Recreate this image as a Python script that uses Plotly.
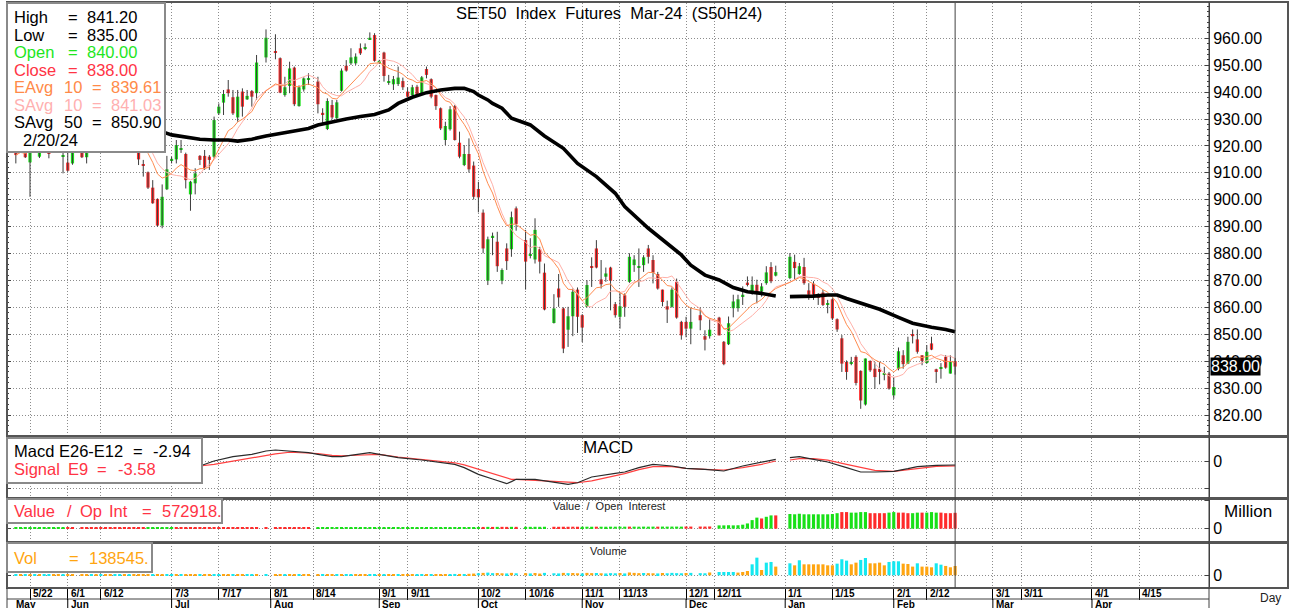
import pandas as pd
import plotly.graph_objects as go

W, H = 1291, 608

# ---------------- data ----------------
holidays = ["2023-06-05", "2023-07-28", "2023-08-01", "2023-08-14", "2023-10-13",
            "2023-10-23", "2023-12-05", "2023-12-11", "2023-12-29", "2024-01-01"]

opens = [
    924.0, 919.0, 922.0, 913.9, 921.0, 916.0, 920.0, 921.0, 919.0, 923.0, 916.0, 913.8, 913.5,
    920.5, 915.8, 921.0, 925.0, 927.0, 929.0, 927.0, 926.0, 922.0, 925.0, 923.0, 924.0,
    921.0, 913.2, 910.2, 904.5, 900.3, 890.4, 903.9, 914.6, 915.0, 918.7, 917.0, 902.0, 906.1,
    916.3, 916.3, 916.0, 916.0, 932.1, 936.1, 941.0, 938.1, 930.6, 940.2, 937.3, 940.4, 939.6,
    952.9,
    955.2, 952.6, 938.9, 942.3, 949.1, 934.8, 941.0, 944.7,
    943.9, 932.2, 926.3, 935.2, 930.3, 940.5, 949.8, 950.7, 950.7, 956.3,
    956.2, 959.8, 961.2, 951.2, 954.7, 943.7, 942.9, 943.0, 944.1, 940.2,
    938.9, 942.0, 939.3, 948.6, 944.8, 938.9, 934.0, 922.2, 926.2, 934.8,
    921.2, 912.9, 917.0, 912.7, 904.0, 895.2, 869.9, 886.2, 884.4, 869.9,
    881.9, 881.6, 896.8,
    885.0, 879.3, 877.8, 881.6, 872.9,
    854.2, 867.0, 859.6, 851.7, 856.7, 866.6, 857.1, 860.2, 875.2, 881.9,
    870.4, 871.4, 874.8, 861.2, 856.5, 864.5, 869.5, 875.7, 874.8, 875.7,
    881.9, 877.6, 872.4, 866.6, 860.4, 860.2, 869.5, 854.6, 854.6, 852.1,
    857.1, 849.3, 849.3,
    856.2, 847.2, 846.3, 859.7, 859.7, 864.0, 869.2, 865.5, 868.4, 865.9, 869.0, 875.0, 871.8,
    870.9, 876.9, 872.4, 875.0, 866.3, 868.8, 864.3, 865.5, 861.2, 863.0,
    855.6, 848.5, 839.7, 839.2, 841.6, 836.4, 823.9, 840.1, 837.2, 837.2,
    835.0, 835.4, 827.3, 837.2, 842.2, 839.1, 850.1, 848.1, 842.2, 839.3,
    846.6, 837.0, 837.3, 841.6, 835.4, 840.0,
]
highs = [
    926.0, 924.0, 924.0, 923.0, 926.0, 922.0, 925.0, 923.0, 925.0, 927.0, 920.0, 918.5, 923.0,
    922.0, 923.0, 926.0, 929.0, 931.0, 932.0, 930.0, 928.0, 926.0, 928.0, 926.0, 927.0,
    923.0, 914.8, 910.5, 907.3, 900.5, 905.7, 916.3, 916.0, 922.2, 922.2, 917.5, 907.0, 911.7,
    916.6, 918.5, 916.6, 930.9, 935.8, 940.8, 944.5, 940.8, 940.8, 941.4, 940.8, 940.8, 953.8,
    963.3,
    961.5, 952.9, 945.7, 951.3, 949.5, 942.5, 945.5, 947.0,
    945.7, 934.0, 937.7, 937.1, 937.1, 948.8, 951.9, 956.3, 954.4, 958.1,
    958.1, 962.2, 961.9, 952.0, 955.0, 946.4, 946.0, 949.5, 945.4, 941.8,
    942.7, 942.7, 946.0, 949.5, 945.1, 939.1, 934.3, 929.0, 934.8, 935.2,
    925.3, 920.3, 922.8, 914.2, 906.7, 896.4, 886.3, 887.8, 888.1, 874.5,
    883.8, 895.6, 897.5,
    888.8, 885.7, 893.1, 882.5, 876.3,
    864.9, 872.4, 860.0, 860.2, 867.0, 867.4, 857.5, 870.1, 878.6, 885.0,
    877.6, 874.8, 875.1, 862.0, 865.4, 865.2, 880.1, 879.4, 881.9, 879.4,
    883.2, 879.4, 873.2, 866.6, 862.5, 867.4, 870.7, 855.0, 856.5, 859.9,
    859.9, 851.5, 855.8,
    856.5, 847.5, 856.6, 864.7, 864.7, 867.8, 871.5, 871.5, 870.3, 869.0, 875.3, 876.8, 875.5,
    880.2, 879.6, 876.5, 878.4, 869.0, 869.7, 865.3, 866.5, 862.8, 863.4,
    855.9, 849.7, 840.3, 841.6, 842.2, 836.6, 841.0, 840.3, 839.7, 839.7,
    837.9, 836.0, 834.1, 845.1, 844.1, 849.1, 851.8, 851.8, 842.2, 846.0,
    849.1, 837.2, 839.3, 842.2, 842.2, 841.2,
]
lows = [
    913.5, 918.5, 915.5, 901.1, 919.0, 915.5, 918.5, 915.4, 918.5, 920.0, 909.8, 910.5, 913.0,
    915.5, 913.5, 919.0, 923.0, 925.0, 926.0, 924.0, 921.0, 920.0, 922.0, 920.0, 920.5,
    912.9, 908.6, 904.0, 898.5, 890.0, 889.4, 903.6, 913.5, 913.5, 917.4, 904.2, 895.9, 902.0,
    912.9, 911.1, 911.1, 915.4, 931.5, 931.5, 938.3, 931.5, 929.0, 930.9, 937.1, 934.6, 937.1,
    951.0,
    952.2, 939.6, 938.3, 939.6, 934.8, 934.6, 940.2, 942.7,
    932.1, 928.4, 925.9, 929.9, 929.9, 940.2, 947.6, 950.1, 950.1, 953.8,
    955.6, 959.4, 951.3, 950.5, 943.9, 942.7, 940.8, 942.3, 940.8, 938.1,
    938.3, 938.3, 938.9, 945.1, 937.7, 933.4, 925.9, 920.3, 925.7, 922.0,
    915.4, 912.5, 910.1, 900.1, 895.3, 880.1, 868.3, 879.4, 873.2, 868.6,
    873.9, 878.8, 888.5,
    866.6, 878.2, 876.3, 872.6, 858.9,
    854.0, 860.2, 843.0, 845.3, 849.3, 850.5, 847.1, 860.0, 867.6, 874.5,
    867.0, 869.5, 858.9, 856.2, 852.1, 856.5, 869.1, 873.2, 867.6, 873.2,
    876.3, 868.9, 866.6, 860.4, 854.2, 859.9, 855.8, 848.0, 848.9, 846.3,
    851.5, 844.0, 848.4,
    849.6, 838.5, 846.0, 856.3, 858.4, 860.9, 867.8, 864.7, 861.5, 864.0, 868.4, 869.0, 871.5,
    870.5, 870.3, 872.1, 868.4, 862.8, 862.8, 860.9, 860.5, 857.8, 855.3,
    850.9, 836.0, 833.1, 838.5, 831.0, 822.3, 823.5, 836.0, 829.7, 831.4,
    832.9, 829.4, 826.0, 836.6, 837.2, 838.9, 846.6, 842.8, 838.5, 839.1,
    844.1, 831.9, 833.5, 837.2, 835.4, 835.0,
]
closes = [
    916.6, 922.0, 915.8, 921.0, 924.0, 920.0, 922.5, 917.0, 923.0, 925.0, 916.6, 910.8, 921.0,
    915.8, 921.0, 925.0, 927.0, 929.0, 927.0, 926.0, 922.0, 925.0, 923.0, 924.0, 921.0,
    915.0, 912.7, 904.5, 898.7, 890.4, 901.1, 911.3, 915.2, 920.3, 919.0, 907.3, 906.7, 909.8,
    914.8, 911.7, 914.8, 929.6, 934.6, 939.3, 939.6, 932.1, 938.3, 934.6, 938.6, 938.3, 951.0,
    960.2,
    954.8, 939.8, 941.8, 948.8, 935.5, 941.8, 945.1, 945.0,
    935.5, 931.9, 936.7, 930.6, 936.2, 948.0, 948.0, 952.9, 953.2, 954.4,
    956.4, 960.1, 951.6, 951.5, 946.0, 944.0, 944.8, 945.4, 941.8, 938.3,
    941.8, 938.9, 945.5, 946.4, 938.3, 934.8, 926.5, 927.4, 933.6, 922.2,
    916.0, 917.0, 911.3, 901.1, 900.9, 881.9, 885.3, 886.5, 875.3, 873.9,
    877.2, 893.5, 891.0,
    877.0, 879.6, 888.8, 877.0, 859.2,
    859.6, 863.7, 844.7, 856.7, 865.8, 856.5, 852.5, 868.3, 874.9, 874.8,
    868.6, 872.6, 869.9, 857.1, 860.4, 860.2, 878.8, 877.8, 875.1, 878.6,
    878.8, 872.9, 867.0, 862.0, 859.2, 866.6, 856.2, 849.6, 852.1, 854.6,
    855.2, 848.0, 851.7,
    849.6, 838.9, 854.1, 862.2, 863.0, 864.7, 868.5, 868.4, 865.5, 867.8, 873.0, 869.7, 873.1,
    878.8, 874.6, 875.3, 869.0, 864.7, 864.7, 863.8, 860.9, 861.4, 855.9,
    851.8, 839.1, 836.0, 839.5, 831.9, 825.4, 841.0, 836.6, 834.1, 836.0,
    835.3, 829.8, 830.4, 843.7, 838.9, 847.2, 849.3, 843.5, 840.1, 843.5,
    844.3, 836.0, 837.6, 837.6, 839.7, 838.0,
]
volumes = [
    11000, 12000, 10000, 13000, 11000, 12000, 10000, 11000, 12000, 13000, 11000, 12000, 10000,
    12000, 11000, 13000, 12000, 11000, 10000, 12000, 13000, 11000, 12000, 13000, 12000,
    13000, 12000, 14000, 15000, 16000, 14000, 13000, 12000, 13000, 12000, 14000, 15000, 13000,
    12000, 13000, 12000, 16000, 15000, 14000, 13000, 14000, 13000, 14000, 12000, 13000, 16000,
    15000,
    14000, 15000, 13000, 14000, 15000, 13000, 12000, 12000,
    14000, 13000, 15000, 13000, 14000, 16000, 13000, 14000, 13000, 13000,
    13000, 14000, 16000, 13000, 14000, 13000, 14000, 15000, 13000, 14000,
    15000, 14000, 15000, 14000, 16000, 17000, 18000, 16000, 19000, 20000,
    20000, 18000, 22000, 26000, 30000, 36000, 40000, 32000, 34000, 30000,
    28000, 36000, 30000,
    32000, 28000, 34000, 26000, 36000,
    30000, 28000, 36000, 32000, 34000, 30000, 28000, 36000, 32000, 34000,
    30000, 28000, 32000, 30000, 34000, 28000, 42000, 36000, 32000, 34000,
    32000, 30000, 28000, 34000, 30000, 36000, 32000, 30000, 34000, 36000,
    32000, 30000, 42000,
    49000, 49000, 49000, 49000, 40000, 49000, 64000, 163000, 262000, 79000, 188000, 198000, 129000,
    178000, 148000, 223000, 163000, 163000, 163000, 163000, 163000, 148000, 148000,
    173000, 238000, 218000, 163000, 188000, 228000, 257000, 178000, 178000, 188000,
    148000, 198000, 208000, 208000, 173000, 168000, 129000, 178000, 129000, 129000,
    119000, 178000, 158000, 139000, 119000, 138545,
]
vol_dir = ("cocococcoocoo" "oococooccoco" "ooocooccocooocooccoocoocco" "c" "oocoocoo"
           "ocoococcoo" "occocoocoo" "occocooocc" "ocoococcoo" "coc" "ocooc"
           "ccocoocooc" "occcocoooc" "oococcccoc" "cco" "ccccoooccocco"
           "cocooooooo" "cccooccooo" "occcooocoo" "occooo")
oi_values = [  # Value / Open Interest, millions
    0.045, 0.046, 0.044, 0.047, 0.045, 0.046, 0.045, 0.044, 0.046, 0.045, 0.047, 0.046, 0.045,
    0.046, 0.045, 0.047, 0.046, 0.045, 0.046, 0.047, 0.046, 0.045, 0.046, 0.047, 0.046,
    0.048, 0.047, 0.049, 0.050, 0.050, 0.049, 0.048, 0.050, 0.049, 0.048, 0.050, 0.049, 0.048,
    0.050, 0.049, 0.048, 0.050, 0.051, 0.050, 0.049, 0.050, 0.051, 0.050, 0.049, 0.050, 0.052,
    0.052,
    0.051, 0.052, 0.050, 0.051, 0.052, 0.051, 0.050, 0.051,
    0.050, 0.051, 0.052, 0.050, 0.051, 0.052, 0.051, 0.050, 0.052, 0.051,
    0.052, 0.051, 0.053, 0.052, 0.051, 0.052, 0.053, 0.052, 0.051, 0.053,
    0.052, 0.053, 0.054, 0.052, 0.053, 0.054, 0.055, 0.054, 0.055, 0.056,
    0.056, 0.057, 0.058, 0.060, 0.062, 0.064, 0.066, 0.065, 0.066, 0.067,
    0.066, 0.068, 0.067,
    0.068, 0.067, 0.069, 0.068, 0.070,
    0.070, 0.069, 0.071, 0.070, 0.072, 0.071, 0.070, 0.072, 0.071, 0.073,
    0.072, 0.071, 0.073, 0.072, 0.074, 0.073, 0.075, 0.074, 0.073, 0.075,
    0.074, 0.075, 0.074, 0.076, 0.075, 0.077, 0.076, 0.075, 0.078, 0.077,
    0.078, 0.077, 0.080,
    0.12, 0.12, 0.125, 0.12, 0.125, 0.145, 0.19, 0.31, 0.40, 0.37, 0.43, 0.48, 0.48,
    0.53, 0.52, 0.54, 0.52, 0.52, 0.52, 0.52, 0.52, 0.52, 0.53,
    0.56, 0.60, 0.60, 0.58, 0.58, 0.60, 0.60, 0.56, 0.56, 0.56,
    0.56, 0.58, 0.60, 0.58, 0.58, 0.56, 0.56, 0.58, 0.58, 0.58,
    0.60, 0.58, 0.58, 0.56, 0.56, 0.573,
]
oi_dir = ("ggggggggggg" "rr" "rrrrrrrrrrrr" "rrggggggrrrrrrrrrrrrrrrrrr" "r" "rrrrrrrr"
          "gggggggggggggggggggggggggggggggggg" "grgrgrrgr" "ggggg"
          "rrrrrr" "gggrggggggrgggggrggggg" "rr" "rrr" "gggggggggrggr"
          "ggggggggggg" "rr" "gggg" "rrrr" "gg" "rrr" "gg" "r" "ggg" "rrrr")

sma50_dates = ["2023-05-17", "2023-05-29", "2023-06-07", "2023-06-19", "2023-06-26", "2023-06-29",
               "2023-07-03", "2023-07-06", "2023-07-11", "2023-07-14", "2023-07-19", "2023-07-21",
               "2023-07-26", "2023-07-31", "2023-08-03", "2023-08-08", "2023-08-11", "2023-08-15",
               "2023-08-18", "2023-08-23", "2023-08-28", "2023-08-31", "2023-09-05", "2023-09-07",
               "2023-09-12", "2023-09-15", "2023-09-20", "2023-09-25", "2023-09-27", "2023-09-29",
               "2023-10-02", "2023-10-04", "2023-10-05", "2023-10-09", "2023-10-11", "2023-10-17",
               "2023-10-20", "2023-10-26", "2023-10-31", "2023-11-06", "2023-11-10", "2023-11-14",
               "2023-11-21", "2023-11-24", "2023-11-30", "2023-12-04", "2023-12-07", "2023-12-12",
               "2023-12-15", "2023-12-20", "2023-12-25", "2023-12-28", "2024-01-01", "2024-01-02",
               "2024-01-04", "2024-01-09", "2024-01-12", "2024-01-16", "2024-01-18", "2024-01-23",
               "2024-01-29", "2024-02-02", "2024-02-07", "2024-02-13", "2024-02-16", "2024-02-20"]
sma50_vals = [931.0, 930.0, 929.0, 927.5, 926.3, 925.3,
              924.1, 923.2, 922.5, 922.2, 922.2, 921.8,
              922.5, 923.7, 924.7, 925.6, 926.5, 927.8,
              929.0, 930.0, 930.9, 931.7, 933.4, 935.8,
              938.1, 939.8, 940.8, 941.4, 941.4, 940.2,
              938.9, 937.1, 935.8, 934.0, 930.3, 927.8,
              923.7, 919.1, 913.5, 908.6, 902.4, 897.5,
              889.4, 885.0, 879.5, 875.7, 872.0, 870.2,
              867.4, 865.8, 865.2, 864.2, None, 864.0,
              864.0, 864.2, 864.6, 864.6, 863.3, 861.5,
              859.3, 856.3, 854.1, 852.6, 851.8, 850.9]

macd_dates = ["2023-05-17", "2023-05-29", "2023-06-07", "2023-06-15", "2023-06-22", "2023-06-28",
              "2023-07-03", "2023-07-06", "2023-07-11", "2023-07-14", "2023-07-20", "2023-07-26",
              "2023-07-31", "2023-08-02", "2023-08-07", "2023-08-11", "2023-08-15", "2023-08-18",
              "2023-08-22", "2023-08-25", "2023-08-30", "2023-09-01", "2023-09-07", "2023-09-14",
              "2023-09-19", "2023-09-25", "2023-09-27", "2023-10-02", "2023-10-05", "2023-10-10",
              "2023-10-11", "2023-10-12", "2023-10-18", "2023-10-20", "2023-10-27", "2023-10-31",
              "2023-11-03", "2023-11-10", "2023-11-14", "2023-11-17", "2023-11-22", "2023-11-28",
              "2023-12-01", "2023-12-07", "2023-12-13", "2023-12-19", "2023-12-25", "2023-12-28",
              "2024-01-01", "2024-01-02", "2024-01-04", "2024-01-09", "2024-01-12", "2024-01-18",
              "2024-01-23", "2024-01-26", "2024-02-01", "2024-02-06", "2024-02-08", "2024-02-14",
              "2024-02-20"]
macd_vals = [-1.0, 0.5, -0.5, 0.8, -1.5, -6.5,
             -6.8, -5.0, -3.66, 0.0, 3.17, 4.88,
             7.32, 8.05, 7.32, 6.1, 4.88, 3.17,
             3.17, 4.88, 6.1, 4.88, 2.44, 0.73,
             -0.73, -2.44, -4.88, -9.8, -13.2, -16.6,
             -15.1, -13.4, -13.4, -14.6, -17.1, -15.9,
             -11.7, -9.03, -8.05, -4.88, -2.44, -3.66,
             -5.37, -6.1, -7.32, -3.66, -0.73, 1.22,
             None, 2.44, 3.17, 1.22, -0.73, -4.88,
             -8.05, -8.05, -7.56, -5.61, -4.15, -3.17,
             -2.94]
signal_vals = [-0.5, 0.0, 0.0, 0.2, -0.3, -2.0,
               -3.5, -4.0, -3.66, -2.44, 0.0, 2.44,
               4.15, 5.2, 6.4, 6.1, 5.5, 4.15,
               3.8, 4.2, 4.88, 4.88, 2.93, 1.1,
               0.2, -1.3, -2.8, -6.1, -9.5, -12.6,
               -13.4, -13.5, -14.0, -14.6, -15.5, -15.9,
               -14.5, -11.0, -9.2, -6.3, -4.15, -4.15,
               -5.37, -6.1, -6.59, -4.88, -2.44, 0.0,
               None, 0.73, 1.71, 1.71, 0.7, -2.44,
               -4.5, -6.8, -7.56, -6.2, -5.3, -4.0,
               -3.58]

tick_days = ["2023-05-22", "2023-06-01", "2023-06-12", "2023-07-03", "2023-07-17", "2023-08-01",
             "2023-08-14", "2023-09-01", "2023-09-11", "2023-10-02", "2023-10-16", "2023-11-01",
             "2023-11-13", "2023-12-01", "2023-12-11", "2024-01-01", "2024-01-15", "2024-02-01",
             "2024-02-12", "2024-03-01", "2024-03-11", "2024-04-01", "2024-04-15"]
tick_text = ["5/22", "6/1", "6/12", "7/3", "7/17", "8/1", "8/14", "9/1", "9/11", "10/2", "10/16",
             "11/1", "11/13", "12/1", "12/11", "1/1", "1/15", "2/1", "2/12", "3/1", "3/11", "4/1", "4/15"]
month_days = ["2023-06-01", "2023-07-03", "2023-08-01", "2023-09-01", "2023-10-02", "2023-11-01",
              "2023-12-01", "2024-01-01", "2024-02-01", "2024-03-01", "2024-04-01"]
month_text = ["Jun", "Jul", "Aug", "Sep", "Oct", "Nov", "Dec", "Jan", "Feb", "Mar", "Apr"]
price_ticks = [820, 830, 840, 850, 860, 870, 880, 890, 900, 910, 920, 930, 940, 950, 960]

title_text = "SET50  Index  Futures  Mar-24  (S50H24)"
last_date_text = "2/20/24"
legend_high, legend_low, legend_open, legend_close = "841.20", "835.00", "840.00", "838.00"
legend_eavg10, legend_savg10, legend_savg50 = "839.61", "841.03", "850.90"
legend_macd, legend_signal = "-2.94", "-3.58"
legend_value, legend_vol = "572918.", "138545."

# ---------------- derived ----------------
sessions = [d for d in pd.bdate_range("2023-05-17", "2024-02-20")
            if d.strftime("%Y-%m-%d") not in holidays]
n = len(sessions)
assert n == len(opens) == len(highs) == len(lows) == len(closes)
assert n == len(volumes) == len(vol_dir) == len(oi_values) == len(oi_dir)

NOON = pd.Timedelta(hours=12)
X = [d + NOON for d in sessions]


def noon(s):
    return pd.Timestamp(s) + NOON


DAY_MS = 86400000
closes_s = pd.Series(closes)
ema10 = closes_s.ewm(span=10, adjust=False).mean()
sma10 = closes_s.rolling(10).mean()

GREEN = "#18e018"
RED = "#ff2b2b"
CYAN = "#14e8f0"
ORANGE = "#ffa510"
FONT = "Liberation Sans, Arial, sans-serif"

fig = go.Figure()

# wicks
wx, wy = [], []
for x, h, l in zip(X, highs, lows):
    wx += [x, x, None]
    wy += [l, h, None]
fig.add_trace(go.Scatter(x=wx, y=wy, mode="lines", line=dict(color="#3c3c3c", width=1),
                         xaxis="x", yaxis="y", hoverinfo="skip"))
# bodies
body_h, body_b, body_c = [], [], []
for o, c in zip(opens, closes):
    h = max(abs(c - o), 0.5)
    body_h.append(h)
    body_b.append(min(o, c) - (h - abs(c - o)) / 2)
    body_c.append(GREEN if c >= o else RED)
fig.add_trace(go.Bar(x=X, y=body_h, base=body_b, marker=dict(color=body_c, line=dict(width=0)),
                     width=0.68 * DAY_MS, xaxis="x", yaxis="y", hoverinfo="skip"))
# averages
fig.add_trace(go.Scatter(x=X, y=sma10, mode="lines", line=dict(color="#ffb0a8", width=1),
                         xaxis="x", yaxis="y"))
fig.add_trace(go.Scatter(x=X, y=ema10, mode="lines", line=dict(color="#ff8c50", width=1),
                         xaxis="x", yaxis="y"))
fig.add_trace(go.Scatter(x=[noon(d) for d in sma50_dates], y=sma50_vals, mode="lines",
                         line=dict(color="#000000", width=3.6), connectgaps=False,
                         xaxis="x", yaxis="y"))
# MACD
md = [noon(d) for d in macd_dates]
fig.add_trace(go.Scatter(x=md, y=signal_vals, mode="lines", line=dict(color="#ff4040", width=1.2),
                         connectgaps=False, xaxis="x2", yaxis="y2"))
fig.add_trace(go.Scatter(x=md, y=macd_vals, mode="lines", line=dict(color="#2a2a2a", width=1.2),
                         connectgaps=False, xaxis="x2", yaxis="y2"))
# value / open interest
fig.add_trace(go.Bar(x=X, y=oi_values, width=0.66 * DAY_MS,
                     marker=dict(color=[GREEN if ch == "g" else RED for ch in oi_dir], line=dict(width=0)),
                     xaxis="x3", yaxis="y3"))
# volume
fig.add_trace(go.Bar(x=X, y=volumes, width=0.66 * DAY_MS,
                     marker=dict(color=[CYAN if ch == "c" else ORANGE for ch in vol_dir], line=dict(width=0)),
                     xaxis="x4", yaxis="y4"))


def px(x):
    return x / W


def py(y):
    return 1 - y / H


x_range = [pd.Timestamp("2023-05-15 15:03"), pd.Timestamp("2024-05-06 07:00")]
tickvals_x = [noon(d) for d in tick_days]
grid_dash = "1px,2px"
GRID = "#8c8c8c"

xcommon = dict(type="date", rangebreaks=[dict(bounds=["sat", "mon"])], range=x_range,
               tickmode="array", tickvals=tickvals_x, showticklabels=False,
               showgrid=True, gridcolor=GRID, griddash=grid_dash, gridwidth=1,
               zeroline=False, showline=False, ticks="", domain=[px(7), px(1209)])

ycommon = dict(side="right", showgrid=True, gridcolor=GRID, griddash=grid_dash, gridwidth=1,
               zeroline=False, showline=True, linecolor="#404040", linewidth=1, mirror="allticks",
               ticks="inside", ticklen=4, tickcolor="#404040",
               tickfont=dict(family=FONT, size=16, color="#000"), tickmode="array")

layout = dict(
    width=W, height=H, margin=dict(l=0, r=0, t=0, b=0), autosize=False,
    paper_bgcolor="white", plot_bgcolor="white", showlegend=False, barmode="overlay",
    font=dict(family=FONT, color="#000"),
    xaxis=dict(xcommon, anchor="y"),
    xaxis2=dict(xcommon, anchor="y2", matches="x"),
    xaxis3=dict(xcommon, anchor="y3", matches="x"),
    xaxis4=dict(xcommon, anchor="y4", matches="x", ticks="outside", ticklen=11, tickcolor="#000", tickwidth=1),
    yaxis=dict(ycommon, anchor="x", domain=[py(435), py(3)], range=[812.57, 973.12],
               tickvals=price_ticks, ticktext=[f"{v:.2f}" for v in price_ticks],
               minor=dict(tickmode="array", tickvals=list(range(814, 973, 2)), ticks="inside", ticklen=2,
                          tickcolor="#404040", showgrid=False)),
    yaxis2=dict(ycommon, anchor="x2", domain=[py(497), py(438)], range=[-26.35, 16.84],
                tickvals=[-20, 0], ticktext=["", "0"]),
    yaxis3=dict(ycommon, anchor="x3", domain=[py(541), py(499)], range=[-0.444, 1.072],
                tickvals=[0, 1], ticktext=["0", ""]),
    yaxis4=dict(ycommon, anchor="x4", domain=[py(588), py(543)], range=[-188500, 479500],
                tickvals=[0], ticktext=["0"]),
)
fig.update_layout(**layout)

shapes = []
ann = []


def line(x0, y0, x1, y1, color="#505050", width=1):
    shapes.append(dict(type="line", xref="paper", yref="paper", x0=px(x0), x1=px(x1), y0=py(y0), y1=py(y1),
                       line=dict(color=color, width=width), layer="above"))


def rect(x0, y0, x1, y1, color="#555555", width=2, fill=None):
    shapes.append(dict(type="rect", xref="paper", yref="paper", x0=px(x0), x1=px(x1), y0=py(y1), y1=py(y0),
                       line=dict(color=color, width=width), fillcolor=fill if fill else "rgba(0,0,0,0)",
                       layer="above"))


def text(s, x, y, color="#000", size=16, anchor="left", **kw):
    ann.append(dict(text=s, xref="paper", yref="paper", x=px(x), y=py(y), xanchor=anchor, yanchor="middle",
                    showarrow=False, font=dict(family=FONT, size=size, color=color), **kw))


# panel frames
rect(7, 2, 1288, 436)
rect(7, 437, 1288, 498)
rect(7, 499, 1288, 542)
rect(7, 543, 1288, 588)
line(1209, 2, 1209, 608, "#404040", 1)
line(7, 588, 7, 608, "#404040", 1)
line(7, 599, 1209, 599, "#404040", 1)

# last bar marker line
shapes.append(dict(type="line", xref="x", yref="paper", x0=X[-1], x1=X[-1], y0=py(588), y1=py(3),
                   line=dict(color="#404040", width=1), layer="above"))
# month separators on second axis row
for d in month_days:
    shapes.append(dict(type="line", xref="x4", yref="paper", x0=noon(d), x1=noon(d), y0=py(608), y1=py(599),
                       line=dict(color="#000", width=1), layer="above"))

# legend boxes
rect(7, 3, 165, 152, "#8a8a8a", 2, "white")
rect(7, 438, 202, 483, "#8a8a8a", 2, "white")
rect(7, 499, 222, 523, "#8a8a8a", 2, "white")
rect(7, 543, 152, 572, "#8a8a8a", 2, "white")

BLK = "#000000"
OPEN_C = "#1ee61e"
CLOSE_C = "#ff3344"
EAVG_C = "#ff8a48"
SAVG_C = "#ffb0b0"
rows = [
    (17, [("High", 12), ("=", 66), (legend_high, 85)], BLK),
    (35, [("Low", 12), ("=", 66), (legend_low, 85)], BLK),
    (52, [("Open", 12), ("=", 66), (legend_open, 85)], OPEN_C),
    (70, [("Close", 12), ("=", 66), (legend_close, 85)], CLOSE_C),
    (87, [("EAvg", 12), ("10", 62), ("=", 90), (legend_eavg10, 109)], EAVG_C),
    (105, [("SAvg", 12), ("10", 62), ("=", 90), (legend_savg10, 109)], SAVG_C),
    (122, [("SAvg", 12), ("50", 62), ("=", 90), (legend_savg50, 109)], BLK),
    (140, [(last_date_text, 21)], BLK),
    (451, [("Macd", 12), ("E26-E12", 57), ("=", 131), (legend_macd, 151)], BLK),
    (469, [("Signal", 12), ("E9", 66), ("=", 95), (legend_signal, 116)], CLOSE_C),
    (511, [("Value", 12), ("/", 65), ("Op", 78), ("Int", 107), ("=", 140), (legend_value, 160)], CLOSE_C),
    (558, [("Vol", 12), ("=", 67), (legend_vol, 87)], ORANGE),
]
for y, toks, col in rows:
    for s, x in toks:
        text(s, x, y, col, 16.5)

# titles
text(title_text.replace(" ", "\u00a0"), 609, 13, BLK, 16.5, anchor="center")
text("MACD", 608, 447, BLK, 17, anchor="center")
text("Value\u00a0\u00a0/\u00a0\u00a0Open\u00a0\u00a0Interest", 609, 506, "#222", 11, anchor="center")
text("Volume", 608, 551, "#222", 11, anchor="center")
text("Million", 1222, 511, BLK, 17)
text("Day", 1258, 598, "#222", 12)

# price tag for last close
ann.append(dict(text=legend_close, xref="paper", yref="y", x=px(1210), y=closes[-1], xanchor="left",
                yanchor="middle", showarrow=False, bgcolor="#000", borderpad=0,
                font=dict(family=FONT, size=16, color="#fff")))

# date axis labels
for d, t in zip(tick_days, tick_text):
    ann.append(dict(text="<b>" + t + "</b>", xref="x4", yref="paper", x=noon(d), y=py(593), xanchor="left",
                    yanchor="middle", xshift=1, showarrow=False, font=dict(family=FONT, size=10, color="#000")))
text("<b>May</b>", 14, 604, BLK, 10)
for d, t in zip(month_days, month_text):
    ann.append(dict(text="<b>" + t + "</b>", xref="x4", yref="paper", x=noon(d), y=py(604), xanchor="left",
                    yanchor="middle", xshift=1, showarrow=False, font=dict(family=FONT, size=10, color="#000")))

fig.update_layout(shapes=shapes, annotations=ann)
fig.write_html("out.html", config={"displayModeBar": False},
               post_script="document.body.style.margin='0px';document.body.style.overflow='hidden';")
